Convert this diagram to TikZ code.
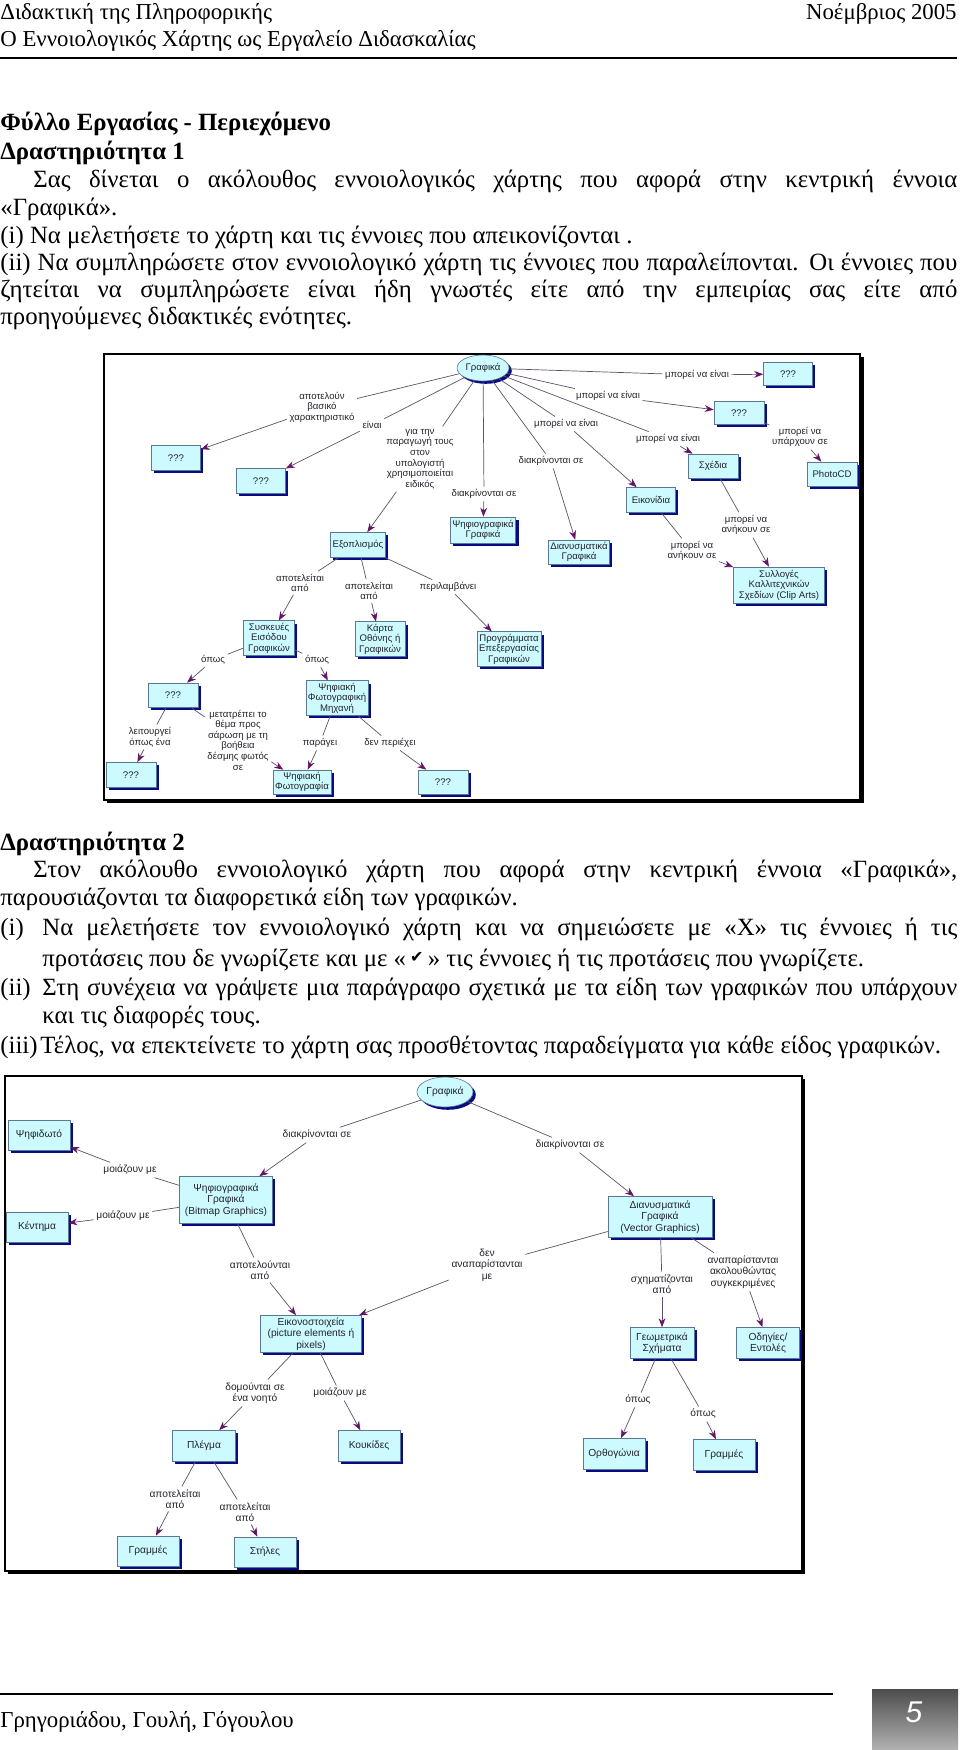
\documentclass[tikz,border=0pt]{standalone}
\usepackage{fontspec}
\setmainfont{Liberation Serif}
\newfontfamily\mapsans{Liberation Sans}
\newfontfamily\symfont{DejaVu Sans}
\usetikzlibrary{arrows.meta,shapes.geometric,shadows,positioning}

\definecolor{boxfill}{RGB}{204,250,255}
\definecolor{boxline}{RGB}{90,120,150}
\definecolor{boxshadow}{RGB}{10,10,130}
\definecolor{linkline}{RGB}{95,80,105}
\definecolor{linktip}{RGB}{100,20,100}
\definecolor{maptext}{RGB}{35,35,45}

\newcommand\mapa{\mapsans\fontsize{4.8}{5.3}\selectfont}
\newcommand\mapb{\mapsans\fontsize{5.1}{5.8}\selectfont}
\newcommand\bodyfont{\fontsize{12.4}{14}\selectfont}
\newcommand\headfont{\fontsize{11.4}{13}\selectfont}
\newcommand\jline[2]{\makebox[#1][s]{#2}}

\tikzset{
  txt/.style={inner sep=0pt, anchor=base west, font=\bodyfont},
  bx/.style 2 args={minimum width=#1, minimum height=#2},
  cbox/.style={draw=boxline, line width=0.3pt, fill=boxfill, text=maptext, align=center, inner sep=1pt,
    drop shadow={shadow xshift=1.4pt, shadow yshift=-1.4pt, fill=boxshadow, opacity=1}},
  rootnode/.style={cbox, ellipse, inner sep=0pt},
  lbl/.style={text=maptext, align=center, inner sep=1.2pt},
  ln/.style={draw=linkline, line width=0.35pt},
  arr/.style={ln, -{Stealth[length=4.5pt, width=3.4pt, color=linktip]}},
}

\begin{document}
\begin{tikzpicture}[x=0.5pt,y=-0.5pt]
\useasboundingbox (0,0) rectangle (960,1750);

% header
\node[txt, font=\headfont] (h1) at (0,20) {Διδακτική της Πληροφορικής};
\node[txt, font=\headfont, anchor=base east] (h2) at (957,20) {Νοέμβριος 2005};
\node[txt, font=\headfont] (h3) at (0,47) {Ο Εννοιολογικός Χάρτης ως Εργαλείο Διδασκαλίας};
\draw[line width=1pt] (0,58) -- (957,58);

% activity 1
\node[txt, font=\bodyfont\bfseries] (a1) at (0,131) {Φύλλο Εργασίας - Περιεχόμενο};
\node[txt, font=\bodyfont\bfseries] (a2) at (0,159) {Δραστηριότητα 1};
\node[txt] (a3) at (33,187) {\jline{462pt}{Σας δίνεται ο ακόλουθος εννοιολογικός χάρτης που αφορά στην κεντρική έννοια}};
\node[txt] (a4) at (0,215) {«Γραφικά».};
\node[txt] (a5) at (0,243) {(i) Να μελετήσετε το χάρτη και τις έννοιες που απεικονίζονται .};
\node[txt] (a6) at (0,270) {\jline{478.5pt}{(ii) Να συμπληρώσετε στον εννοιολογικό χάρτη τις έννοιες που παραλείπονται. Οι έννοιες που}};
\node[txt] (a7) at (0,297) {\jline{478.5pt}{ζητείται να συμπληρώσετε είναι ήδη γνωστές είτε από την εμπειρίας σας είτε από}};
\node[txt] (a8) at (0,324) {προηγούμενες διδακτικές ενότητες.};

% map 1 frame
\draw[line width=1pt] (104,354) rectangle (860,800);
\draw[line width=1.5pt] (107,801.5) -- (862.5,801.5) -- (862.5,357);

\begin{scope}[font=\mapa]
% concepts
\node[rootnode, bx={26pt}{13pt}] (g1) at (483,368) {Γραφικά};
\node[cbox, bx={24.5pt}{12.5pt}] (q1) at (176,458) {???};
\node[cbox, bx={24.5pt}{12.5pt}] (q2) at (261,481) {???};
\node[cbox, bx={26pt}{12.5pt}] (eqp) at (358,545) {Εξοπλισμός};
\node[cbox, bx={30.5pt}{13pt}] (psg) at (483,530) {Ψηφιογραφικά\\Γραφικά};
\node[cbox, bx={29pt}{12pt}] (dng) at (579,552) {Διανυσματικά\\Γραφικά};
\node[cbox, bx={24.5pt}{12.5pt}] (eik) at (651,500) {Εικονίδια};
\node[cbox, bx={25pt}{12pt}] (sxe) at (713,466) {Σχέδια};
\node[cbox, bx={25pt}{11.5pt}] (q3) at (739,413) {???};
\node[cbox, bx={24.5pt}{11.5pt}] (q4) at (788,374) {???};
\node[cbox, bx={25pt}{12pt}] (pcd) at (832,474) {PhotoCD};
\node[cbox, bx={45.5pt}{18pt}] (syl) at (779,585) {Συλλογές\\Καλλιτεχνικών\\Σχεδίων (Clip Arts)};
\node[cbox, bx={32pt}{16.5pt}] (prg) at (509,649) {Προγράμματα\\Επεξεργασίας\\Γραφικών};
\node[cbox, bx={25.5pt}{16pt}] (sys) at (269,638) {Συσκευές\\Εισόδου\\Γραφικών};
\node[cbox, bx={25pt}{15.5pt}] (krt) at (380,639) {Κάρτα\\Οθόνης ή\\Γραφικών};
\node[cbox, bx={25pt}{12pt}] (q5) at (173,695) {???};
\node[cbox, bx={29.5pt}{16pt}] (pfm) at (337,698) {Ψηφιακή\\Φωτογραφική\\Μηχανή};
\node[cbox, bx={25pt}{12.5pt}] (q6) at (131,775) {???};
\node[cbox, bx={27.5pt}{12pt}] (pfo) at (302,782) {Ψηφιακή\\Φωτογραφία};
\node[cbox, bx={25pt}{12pt}] (q7) at (443,782) {???};
% linking phrases
\node[lbl] (l1) at (322,407) {αποτελούν\\βασικό\\χαρακτηριστικό};
\node[lbl] (l2) at (372,425) {είναι};
\node[lbl] (l3) at (420,459) {για την\\παραγωγή τους\\στον\\υπολογιστή\\χρησιμοποιείται\\ειδικός};
\node[lbl] (l4) at (484,494) {διακρίνονται σε};
\node[lbl] (l5) at (551,461) {διακρίνονται σε};
\node[lbl] (l6) at (566,424) {μπορεί να είναι};
\node[lbl] (l7) at (668,439) {μπορεί να είναι};
\node[lbl] (l8) at (608,396) {μπορεί να είναι};
\node[lbl] (l9) at (697,375) {μπορεί να είναι};
\node[lbl] (l10) at (800,437) {μπορεί να\\υπάρχουν σε};
\node[lbl] (l11) at (746,525) {μπορεί να\\ανήκουν σε};
\node[lbl] (l12) at (692,551) {μπορεί να\\ανήκουν σε};
\node[lbl] (l13) at (300,583) {αποτελείται\\από};
\node[lbl] (l14) at (369,591) {αποτελείται\\από};
\node[lbl] (l15) at (448,587) {περιλαμβάνει};
\node[lbl] (l16) at (213,660) {όπως};
\node[lbl] (l17) at (317,660) {όπως};
\node[lbl] (l18) at (150,737) {λειτουργεί\\όπως ένα};
\node[lbl] (l19) at (238,740) {μετατρέπει το\\θέμα προς\\σάρωση με τη\\βοήθεια\\δέσμης φωτός\\σε};
\node[lbl] (l20) at (320,743) {παράγει};
\node[lbl] (l21) at (390,743) {δεν περιέχει};
\end{scope}
\foreach \a/\b/\c in {g1/l1/q1, g1/l2/q2, g1/l3/eqp, g1/l4/psg, g1/l5/dng, g1/l6/eik,
    g1/l7/sxe, g1/l8/q3, g1/l9/q4, q3/l10/pcd, sxe/l11/syl, eik/l12/syl, eqp/l13/sys,
    eqp/l14/krt, eqp/l15/prg, sys/l16/q5, sys/l17/pfm, q5/l18/q6, q5/l19/pfo,
    pfm/l20/pfo, pfm/l21/q7}
  {\draw[ln] (\a) -- (\b); \draw[arr] (\b) -- (\c);}

% activity 2
\node[txt, font=\bodyfont\bfseries] (b1) at (0,850) {Δραστηριότητα 2};
\node[txt] (b2) at (33,877) {\jline{462pt}{Στον ακόλουθο εννοιολογικό χάρτη που αφορά στην κεντρική έννοια «Γραφικά»,}};
\node[txt] (b3) at (0,905) {παρουσιάζονται τα διαφορετικά είδη των γραφικών.};
\node[txt] (b4) at (0,935) {(i)};
\node[txt] (b5) at (42,935) {\jline{457.5pt}{Να μελετήσετε τον εννοιολογικό χάρτη και να σημειώσετε με «Χ» τις έννοιες ή τις}};
\node[txt] (b6) at (42,966) {προτάσεις που δε γνωρίζετε και με «\,{\symfont\fontsize{8}{8}\selectfont\raisebox{2pt}{✔}}\,» τις έννοιες ή τις προτάσεις που γνωρίζετε.};
\node[txt] (b7) at (0,995) {(ii)};
\node[txt] (b8) at (42,995) {\jline{457.5pt}{Στη συνέχεια να γράψετε μια παράγραφο σχετικά με τα είδη των γραφικών που υπάρχουν}};
\node[txt] (b9) at (42,1023) {και τις διαφορές τους.};
\node[txt] (b10) at (0,1053) {(iii)};
\node[txt] (b11) at (40,1053) {Τέλος, να επεκτείνετε το χάρτη σας προσθέτοντας παραδείγματα για κάθε είδος γραφικών.};

% map 2 frame
\draw[line width=1pt] (5,1076) rectangle (802,1571);
\draw[line width=1.5pt] (8,1572.5) -- (803.5,1572.5) -- (803.5,1079);

\begin{scope}[font=\mapb]
% concepts
\node[rootnode, bx={28pt}{15pt}] (g2) at (445,1092) {Γραφικά};
\node[cbox, bx={31pt}{15pt}] (psd) at (39,1135) {Ψηφιδωτό};
\node[cbox, bx={31pt}{15pt}] (ken) at (37,1227) {Κέντημα};
\node[cbox, bx={46.5pt}{23.5pt}] (bmp) at (226,1200) {Ψηφιογραφικά\\Γραφικά\\(Bitmap Graphics)};
\node[cbox, bx={52pt}{20.5pt}] (vec) at (660,1217) {Διανυσματικά\\Γραφικά\\(Vector Graphics)};
\node[cbox, bx={50.5pt}{18pt}] (pix) at (311,1334) {Εικονοστοιχεία\\(picture elements ή\\pixels)};
\node[cbox, bx={32pt}{15.5pt}] (geo) at (662,1343) {Γεωμετρικά\\Σχήματα};
\node[cbox, bx={31.5pt}{15.5pt}] (odi) at (768,1343) {Οδηγίες/\\Εντολές};
\node[cbox, bx={31pt}{15.5pt}] (ort) at (614,1454) {Ορθογώνια};
\node[cbox, bx={31pt}{15.5pt}] (grr) at (724,1455) {Γραμμές};
\node[cbox, bx={31.5pt}{15.5pt}] (plg) at (204,1446) {Πλέγμα};
\node[cbox, bx={31pt}{15.5pt}] (kou) at (369,1446) {Κουκίδες};
\node[cbox, bx={31pt}{15pt}] (grl) at (148,1551) {Γραμμές};
\node[cbox, bx={31pt}{15pt}] (sti) at (265,1552) {Στήλες};
% linking phrases
\node[lbl] (m1) at (317,1135) {διακρίνονται σε};
\node[lbl] (m2) at (570,1145) {διακρίνονται σε};
\node[lbl] (m3) at (130,1170) {μοιάζουν με};
\node[lbl] (m4) at (123,1216) {μοιάζουν με};
\node[lbl] (m5) at (260,1270) {αποτελούνται\\από};
\node[lbl] (m6) at (487,1265) {δεν\\αναπαρίστανται\\με};
\node[lbl] (m7) at (662,1284) {σχηματίζονται\\από};
\node[lbl] (m8) at (743,1272) {αναπαρίστανται\\ακολουθώντας\\συγκεκριμένες};
\node[lbl] (m9) at (255,1393) {δομούνται σε\\ένα νοητό};
\node[lbl] (m10) at (340,1393) {μοιάζουν με};
\node[lbl] (m11) at (175,1499) {αποτελείται\\από};
\node[lbl] (m12) at (245,1512) {αποτελείται\\από};
\node[lbl] (m13) at (638,1400) {όπως};
\node[lbl] (m14) at (703,1414) {όπως};
\end{scope}
\foreach \a/\b/\c in {g2/m1/bmp, g2/m2/vec, bmp/m3/psd, bmp/m4/ken, bmp/m5/pix,
    vec/m6/pix, vec/m7/geo, vec/m8/odi, pix/m9/plg, pix/m10/kou, plg/m11/grl,
    plg/m12/sti, geo/m13/ort, geo/m14/grr}
  {\draw[ln] (\a) -- (\b); \draw[arr] (\b) -- (\c);}

% footer
\draw[line width=0.75pt] (0,1694) -- (833,1694);
\node[txt, font=\headfont] (f1) at (0,1727) {Γρηγοριάδου, Γουλή, Γόγουλου};
\shade[top color=black!70, bottom color=black!30] (872,1689) rectangle (958,1750);
\node[font=\mapsans\itshape\fontsize{15}{15}\selectfont, text=white] (pg) at (914,1712) {5};
\end{tikzpicture}
\end{document}
